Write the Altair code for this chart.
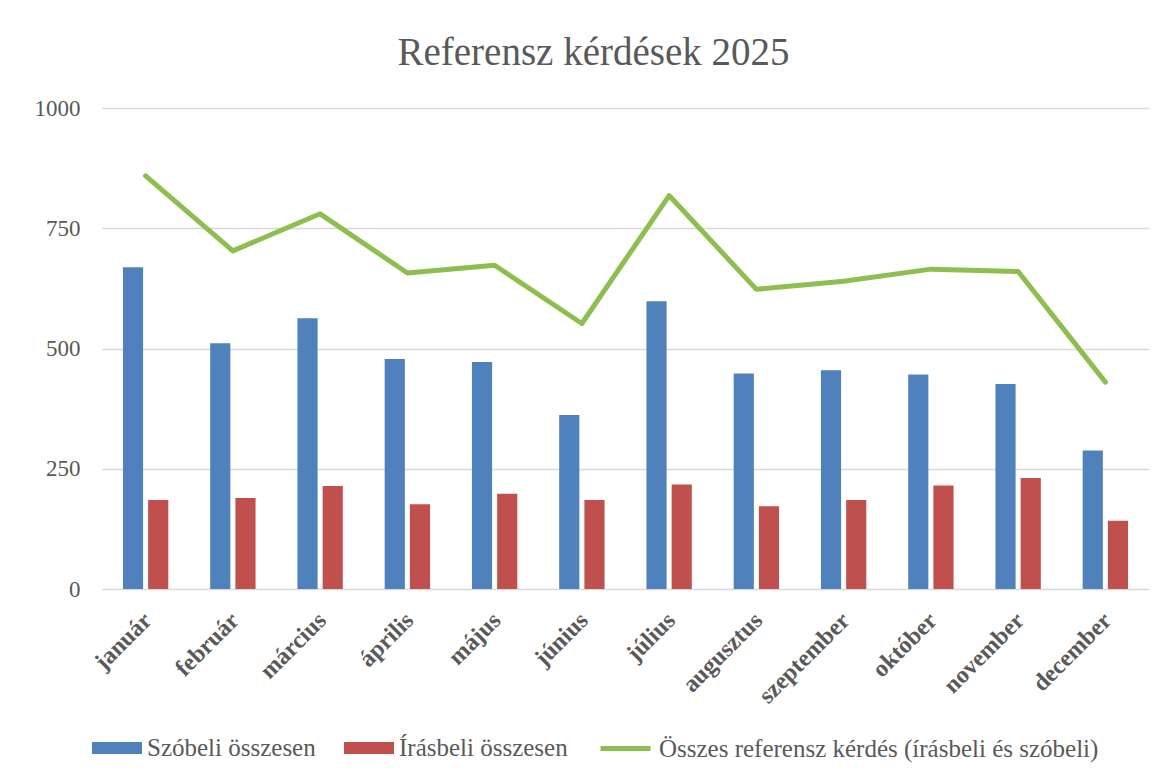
import altair as alt
import pandas as pd

months = ["január", "február", "március", "április", "május", "június",
          "július", "augusztus", "szeptember", "október", "november", "december"]
szobeli = [669, 511, 563, 478, 472, 362, 598, 448, 455, 446, 426, 288]
irasbeli = [185, 189, 214, 176, 198, 185, 217, 172, 185, 215, 231, 142]
osszes = [859, 703, 780, 657, 673, 552, 818, 623, 640, 665, 660, 430]
y_ticks = [0, 250, 500, 750, 1000]

S1 = "Szóbeli összesen"
S2 = "Írásbeli összesen"
S3 = "Összes referensz kérdés (írásbeli és szóbeli)"

bars_df = pd.DataFrame({
    "honap": months * 2,
    "sorozat": [S1] * len(months) + [S2] * len(months),
    "ertek": szobeli + irasbeli,
})
line_df = pd.DataFrame({"honap": months, "sorozat": [S3] * len(months), "ertek": osszes})

FONT = "Liberation Serif"
GRAY = "#595959"

xscale = alt.Scale(domain=months, paddingInner=0.48, paddingOuter=0.24)
yscale = alt.Scale(domain=[0, 1000])

x = alt.X("honap:N", sort=months, scale=xscale, title=None,
          axis=alt.Axis(labelAngle=-45, labelFont=FONT, labelFontSize=24,
                        labelFontWeight="bold", labelColor=GRAY,
                        labelAlign="right", labelBaseline="top",
                        labelPadding=19, labelOffset=-6, ticks=False,
                        domain=False, grid=False))
y = alt.Y("ertek:Q", scale=yscale, title=None,
          axis=alt.Axis(values=y_ticks, format="d", labelFont=FONT, labelFontSize=23,
                        labelColor=GRAY, labelPadding=22, ticks=False,
                        domain=False, gridColor="#d9d9d9", gridWidth=1.5))

bars = alt.Chart(bars_df).mark_bar().encode(
    x=x,
    y=y,
    xOffset=alt.XOffset("sorozat:N", sort=[S1, S2],
                        scale=alt.Scale(paddingInner=0.2, paddingOuter=0)),
    fill=alt.Fill("sorozat:N",
                  scale=alt.Scale(domain=[S1, S2], range=["#4f81bd", "#c0504d"]),
                  legend=alt.Legend(orient="none", legendX=-10, legendY=615,
                                    direction="horizontal", title=None,
                                    symbolType="M-1,-0.24H1V0.24H-1Z",
                                    symbolSize=2500, symbolStrokeWidth=0,
                                    labelFont=FONT, labelFontSize=25,
                                    labelColor=GRAY, labelOffset=5,
                                    labelLimit=800,
                                    columnPadding=28, padding=0)),
)

line = alt.Chart(line_df).mark_line(strokeWidth=5, strokeJoin="round", strokeCap="round").encode(
    x=x,
    y=y,
    stroke=alt.Stroke("sorozat:N",
                      scale=alt.Scale(domain=[S3], range=["#8cbf4f"]),
                      legend=alt.Legend(orient="none", legendX=496, legendY=613,
                                        direction="horizontal", title=None,
                                        symbolType="stroke", symbolSize=2500,
                                        symbolStrokeWidth=5,
                                        labelFont=FONT, labelFontSize=25,
                                        labelColor=GRAY, labelOffset=6,
                                        labelLimit=800, padding=0)),
)

chart = alt.layer(bars, line).properties(
    width=1047,
    height=481,
    padding={"left": 94, "top": 100, "right": 13, "bottom": 185},
    autosize=alt.AutoSizeParams(type="none"),
    title=alt.TitleParams("Referensz kérdések 2025", font=FONT, fontSize=39,
                          fontWeight="normal", color=GRAY, anchor="middle",
                          offset=24, dx=-32),
).configure_view(stroke=None)

chart.save("out.html", embed_options={"renderer": "svg", "actions": False})
